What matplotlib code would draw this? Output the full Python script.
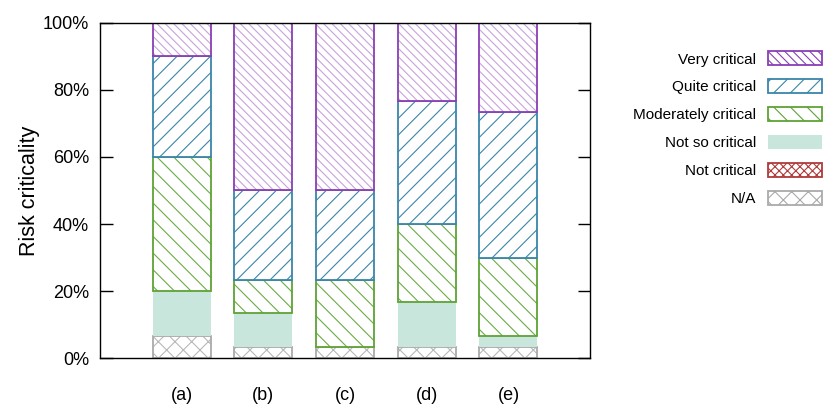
import numpy as np
import matplotlib
matplotlib.use("Agg")
import matplotlib.pyplot as plt
from matplotlib.patches import Patch

plt.rcParams['font.family'] = ['Liberation Sans', 'DejaVu Sans']
plt.rcParams['hatch.linewidth'] = 0.8

groups = ["(a)", "(b)", "(c)", "(d)", "(e)"]
levels = ["N/A", "Not critical", "Not so critical",
          "Moderately critical", "Quite critical", "Very critical"]

# shares in percent, bottom to top
na       = [6.67, 3.33, 3.33, 3.33, 3.33]
not_crit = [0, 0, 0, 0, 0]
not_so   = [13.33, 10.0, 0, 13.33, 3.33]
moderate = [40.0, 10.0, 20.0, 23.33, 23.33]
quite    = [30.0, 26.67, 26.67, 36.67, 43.33]
very     = [10.0, 50.0, 50.0, 23.33, 26.67]

series = [na, not_crit, not_so, moderate, quite, very]

# edge colour, hatch colour, hatch pattern
styles = [
    ("#aaaaaa", "#b8b8b8", "xx"),
    ("#b03a3a", "#c05050", "xxxx"),
    ("#c8e6dc", None, None),
    ("#5ea236", "#6aac45", "\\\\"),
    ("#3a86aa", "#3a86aa", "//"),
    ("#8a3fb4", "#c7a4dc", "\\\\\\\\"),
]

fig = plt.figure(figsize=(8.3, 4.15), dpi=100)
ax = fig.add_axes([0.1205, 0.137, 0.5905, 0.808])

x = np.arange(1, len(groups) + 1)
w = 0.71
bottom = np.zeros(len(groups))
handles = []
for vals, lab, (ec, hc, hp) in zip(series, levels, styles):
    vals = np.array(vals, dtype=float)
    m = vals > 0
    if hp is None:
        ax.bar(x[m], vals[m], w, bottom=bottom[m], color=ec, linewidth=0)
        handles.append(Patch(facecolor=ec, edgecolor=ec, linewidth=0, label=lab))
    else:
        ax.bar(x[m], vals[m], w, bottom=bottom[m], facecolor="white",
               edgecolor=hc, hatch=hp, linewidth=0)
        ax.bar(x[m], vals[m], w, bottom=bottom[m], fill=False, edgecolor=ec,
               linewidth=1.3)
        handles.append(Patch(facecolor="white", edgecolor=ec, hatch=hp,
                             linewidth=1.3, label=lab))
    bottom += vals

ax.set_xlim(0, 6)
ax.set_ylim(0, 100)
ax.set_xticks(x)
ax.set_xticklabels(groups, fontsize=13)
ax.tick_params(axis="x", length=0, pad=21)
ax.set_yticks(np.arange(0, 101, 20))
ax.set_yticklabels([f"{v}%" for v in range(0, 101, 20)], fontsize=13)
ax.tick_params(axis="y", direction="in", length=9, width=1, right=True, pad=8)
ax.set_ylabel("Risk criticality", fontsize=15.5, labelpad=2)
for s in ax.spines.values():
    s.set_linewidth(1.0)

leg = fig.legend(handles=handles[::-1], loc="upper right",
                 bbox_to_anchor=(0.9995, 0.895), frameon=False,
                 markerfirst=False, fontsize=11, handlelength=3.55,
                 handleheight=1.05, labelspacing=0.83, handletextpad=0.75,
                 borderpad=0)

fig.savefig("out.png", dpi=100)
